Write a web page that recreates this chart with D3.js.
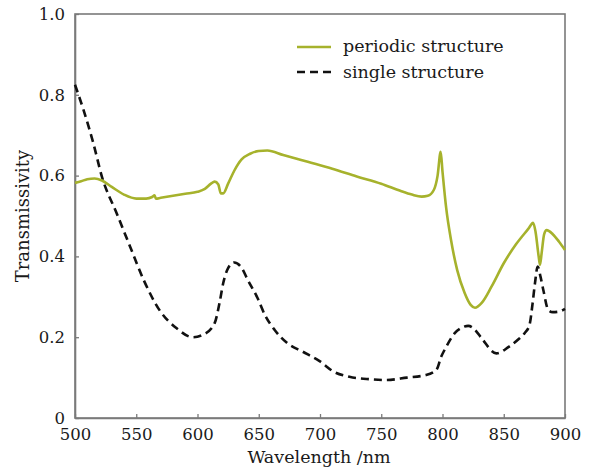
<!DOCTYPE html>
<html>
<head>
<meta charset="utf-8">
<script src="https://cdn.jsdelivr.net/npm/d3@7"></script>
<style>
  body { margin: 0; background: #fff; }
  svg { display: block; }
  text { font-family: "DejaVu Serif", serif; fill: #1a1a1a; }
</style>
</head>
<body>
<svg id="chart" width="592" height="471"></svg>
<script>
// Transmission spectra: periodic structure vs single structure
const periodicWl = [500,505,510,516,522,530,540,550,558,563,565,566,570,580,590,600,606,611,614,617,619,621,625,630,636,643,650,657,670,690,710,730,750,765,775,783,788,793,796,798.5,800,803,807,812,818,823,826.5,832,840,850,860,870,874,876,878.5,879.6,881,883,885,890,895,900];
const periodicT  = [0.582,0.586,0.591,0.593,0.588,0.572,0.553,0.543,0.543,0.547,0.551,0.543,0.545,0.550,0.555,0.560,0.567,0.580,0.585,0.578,0.556,0.556,0.580,0.612,0.640,0.654,0.661,0.662,0.651,0.634,0.617,0.598,0.580,0.563,0.553,0.548,0.550,0.565,0.600,0.659,0.610,0.520,0.440,0.366,0.310,0.280,0.273,0.285,0.325,0.383,0.430,0.468,0.483,0.460,0.400,0.379,0.410,0.455,0.465,0.455,0.437,0.416];

const singleWl = [500,507,515,522,534,545,556,569,583,596,605,614,618,621,625,630,636,641,649,655,663,673,686,700,711,724,741,754,771,786,795,799,803,810,816,821,826,832,844,854,862,867,871,873.6,875.5,877.7,880,882.3,886.4,890,894.5,900];
const singleT  = [0.825,0.762,0.680,0.597,0.507,0.424,0.342,0.267,0.222,0.200,0.207,0.235,0.285,0.334,0.371,0.385,0.372,0.342,0.297,0.255,0.218,0.186,0.164,0.140,0.115,0.102,0.096,0.094,0.100,0.106,0.119,0.152,0.176,0.210,0.224,0.228,0.220,0.197,0.160,0.176,0.195,0.210,0.230,0.285,0.334,0.375,0.350,0.317,0.267,0.262,0.263,0.270];

const xTicks = [500,550,600,650,700,750,800,850,900];
const yTicks = [0,0.2,0.4,0.6,0.8,1.0];
const yTickLabels = ["0","0.2","0.4","0.6","0.8","1.0"];

const seriesNames = ["periodic structure","single structure"];
const greenColor = "#a6b22c";

const svg = d3.select("#chart");
const m = {left: 75, right: 27, top: 14, bottom: 53};
const W = 592, H = 471;
const x = d3.scaleLinear().domain([500,900]).range([m.left, W - m.right]);
const y = d3.scaleLinear().domain([0,1]).range([H - m.bottom, m.top]);

// Frame
svg.append("rect")
  .attr("x", x(500)).attr("y", y(1))
  .attr("width", x(900) - x(500)).attr("height", y(0) - y(1))
  .attr("fill", "none").attr("stroke", "#7a7a7a").attr("stroke-width", 1.6);

// Axes with inward ticks
const xAxis = d3.axisBottom(x).tickValues(xTicks).tickSizeInner(-4).tickSizeOuter(0).tickPadding(10);
const gx = svg.append("g").attr("transform", `translate(0,${y(0)})`).call(xAxis);
gx.select(".domain").attr("stroke", "#7a7a7a").attr("stroke-width", 1.6);
gx.selectAll(".tick line").attr("stroke", "#7a7a7a").attr("stroke-width", 1.3);
gx.selectAll(".tick text").attr("font-size", 16.5).attr("font-family", "DejaVu Serif").attr("fill", "#1a1a1a");

const yAxis = d3.axisLeft(y).tickValues(yTicks).tickFormat((d,i) => yTickLabels[i])
  .tickSizeInner(-4).tickSizeOuter(0).tickPadding(10);
const gy = svg.append("g").attr("transform", `translate(${x(500)},0)`).call(yAxis);
gy.select(".domain").attr("stroke", "#7a7a7a").attr("stroke-width", 1.6);
gy.selectAll(".tick line").attr("stroke", "#7a7a7a").attr("stroke-width", 1.3);
gy.selectAll(".tick text").attr("font-size", 16.5).attr("font-family", "DejaVu Serif").attr("fill", "#1a1a1a");

// Curves
const line = d3.line().x(d => x(d[0])).y(d => y(d[1])).curve(d3.curveMonotoneX);
const periodic = periodicWl.map((w,i) => [w, periodicT[i]]);
const single = singleWl.map((w,i) => [w, singleT[i]]);

svg.append("path").datum(single)
  .attr("d", line).attr("fill", "none").attr("stroke", "#111")
  .attr("stroke-width", 2.6).attr("stroke-dasharray", "8,5");

svg.append("path").datum(periodic)
  .attr("d", line).attr("fill", "none").attr("stroke", greenColor)
  .attr("stroke-width", 2.6).attr("stroke-linejoin", "round");

// Legend
const lg = svg.append("g");
lg.append("line").attr("x1", 297).attr("x2", 331).attr("y1", 47).attr("y2", 47)
  .attr("stroke", greenColor).attr("stroke-width", 2.6);
lg.append("line").attr("x1", 297).attr("x2", 331).attr("y1", 72).attr("y2", 72)
  .attr("stroke", "#111").attr("stroke-width", 2.6).attr("stroke-dasharray", "8,5");
lg.append("text").attr("x", 343).attr("y", 52).attr("font-size", 17.5).text(seriesNames[0]);
lg.append("text").attr("x", 343).attr("y", 78).attr("font-size", 17.5).text(seriesNames[1]);

// Axis titles
svg.append("text").attr("x", 319).attr("y", 463).attr("text-anchor", "middle")
  .attr("font-size", 17.5).text("Wavelength /nm");
svg.append("text").attr("transform", "translate(29,216) rotate(-90)")
  .attr("text-anchor", "middle").attr("font-size", 18).text("Transmissivity");
</script>
</body>
</html>
